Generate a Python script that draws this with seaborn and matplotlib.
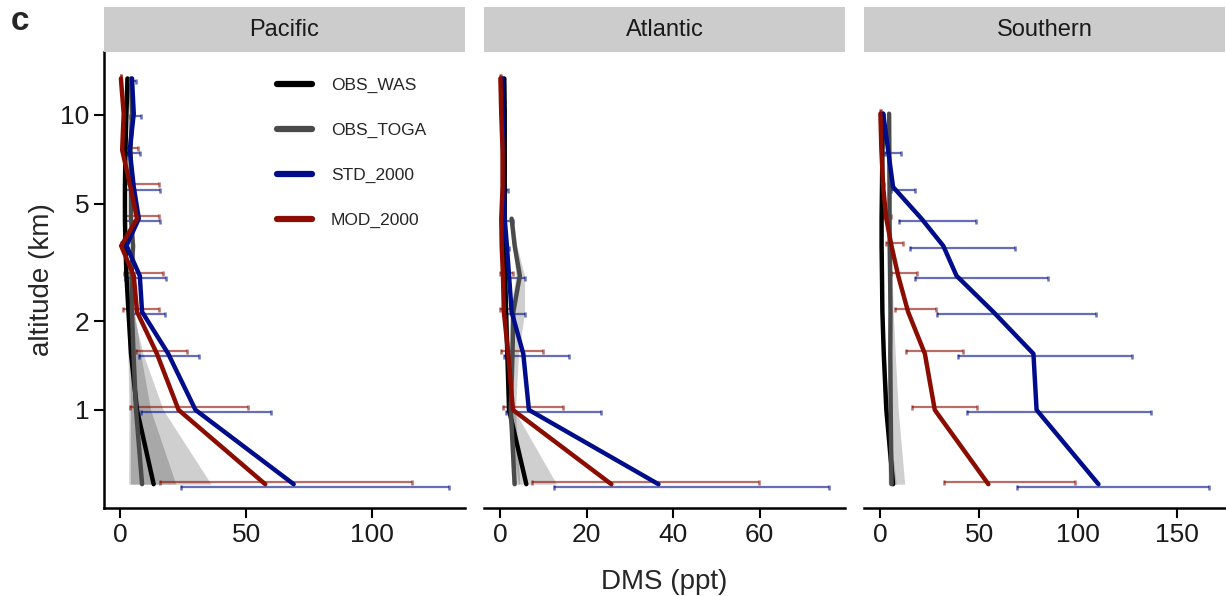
import numpy as np
import pandas as pd
import seaborn as sns
import matplotlib
matplotlib.use("Agg")
import matplotlib.pyplot as plt
from matplotlib.lines import Line2D

sns.set_theme(style="white")
plt.rcParams['font.family'] = ['Liberation Sans', 'DejaVu Sans']

nan = np.nan

# altitude levels (km) of the profiles
altitude = [0.56, 1.0, 1.55, 2.15, 2.85, 3.6, 4.45, 5.7, 7.6, 10.1, 13.3]
regions = ['Pacific', 'Atlantic', 'Southern']
series = ['OBS_WAS', 'OBS_TOGA', 'STD_2000', 'MOD_2000']

# Pacific
pac_was = [13.2, 6.6, 4.2, 3.2, 2.4, 2.0, 1.8, 1.8, 2.0, 2.4, 2.8]
pac_was_lo = [3.3, 3.4, 3.0, 2.5, 1.9, 1.6, 1.4, 1.4, 1.6, 2.0, 2.3]
pac_was_hi = [36.0, 17.0, 9.0, 5.0, 3.2, 2.5, 2.2, 2.2, 2.4, 2.8, 3.3]
pac_toga = [8.6, 6.2, 5.2, 4.6, 4.4, 5.0, 4.2, 4.2, 4.0, 4.6, 4.2]
pac_toga_lo = [4.0, 4.0, 3.8, 3.8, 3.8, 4.2, 3.6, 3.6, 3.5, 4.0, 3.6]
pac_toga_hi = [22.0, 12.0, 8.0, 5.6, 5.0, 5.8, 4.8, 4.8, 4.6, 5.2, 4.8]
pac_std = [68.8, 29.8, 19.0, 8.6, 7.7, 2.4, 7.3, 5.3, 3.7, 5.3, 4.6]
pac_std_lo = [24.2, 8.2, 7.3, 3.3, 2.0, 1.8, 2.0, 2.0, 2.5, 4.0, 3.8]
pac_std_hi = [130.3, 59.8, 31.3, 17.9, 18.1, 3.2, 15.9, 15.9, 7.9, 8.2, 6.3]
pac_mod = [57.5, 23.1, 14.5, 6.6, 5.3, 0.3, 6.6, 4.0, 0.7, 1.3, 0.2]
pac_mod_lo = [15.9, 3.7, 6.0, 1.0, 1.5, 0.2, 1.5, 2.0, 0.5, 1.0, 0.1]
pac_mod_hi = [115.7, 50.5, 26.5, 15.2, 16.8, 0.5, 15.2, 15.2, 6.9, 1.6, 0.4]

# Atlantic
atl_was = [6.0, 2.0, 1.6, 1.3, 1.1, 1.0, 1.0, 1.0, 1.0, 1.0, 0.9]
atl_was_lo = [4.2, 1.5, 1.2, 1.0, 0.9, 0.8, 0.8, 0.8, 0.8, 0.8, 0.7]
atl_was_hi = [13.0, 3.2, 2.2, 1.8, 1.4, 1.2, 1.2, 1.2, 1.2, 1.2, 1.1]
atl_toga = [3.3, 2.4, 2.8, 3.0, 4.5, 3.3, 2.6, nan, nan, nan, nan]
atl_toga_lo = [2.6, 2.0, 2.0, 2.2, 3.6, 2.9, 2.3, nan, nan, nan, nan]
atl_toga_hi = [4.5, 3.5, 4.2, 5.6, 5.6, 3.8, 3.0, nan, nan, nan, nan]
atl_std = [36.6, 6.6, 5.3, 2.6, 2.0, 1.5, 1.0, 0.8, 0.6, 0.5, 0.5]
atl_std_lo = [12.4, 1.2, 0.8, 0.8, 0.8, 1.0, 0.6, 0.5, 0.4, 0.4, 0.4]
atl_std_hi = [76.0, 23.2, 15.9, 5.6, 5.6, 2.0, 2.9, 1.8, 0.8, 0.7, 0.6]
atl_mod = [25.7, 2.9, 1.8, 0.8, 0.6, 0.3, 0.2, 0.5, 0.5, 0.2, 0.0]
atl_mod_lo = [7.4, 0.5, 0.2, 0.0, 0.0, 0.1, 0.1, 0.3, 0.3, 0.1, 0.0]
atl_mod_hi = [59.8, 14.4, 9.9, 2.9, 2.9, 0.6, 0.5, 0.8, 0.7, 0.4, 0.2]

# Southern
sou_was = [6.4, 3.0, 1.7, 1.0, 0.8, 0.6, 0.6, 0.8, 1.0, 1.4, nan]
sou_was_lo = [4.5, 2.0, 1.1, 0.6, 0.5, 0.4, 0.4, 0.5, 0.7, 1.0, nan]
sou_was_hi = [8.0, 4.0, 2.4, 1.5, 1.1, 0.9, 0.9, 1.1, 1.3, 1.8, nan]
sou_toga = [5.6, 5.2, 5.0, 5.1, 4.9, 4.7, 4.6, 4.6, 4.5, 4.4, nan]
sou_toga_lo = [3.9, 3.9, 3.9, 4.1, 4.0, 4.0, 4.0, 4.0, 3.9, 3.8, nan]
sou_toga_hi = [12.3, 9.0, 7.5, 6.5, 6.0, 5.6, 5.4, 5.3, 5.2, 5.1, nan]
sou_std = [110.3, 79.0, 77.4, 57.1, 38.5, 31.8, 20.8, 6.4, 3.9, 1.4, nan]
sou_std_lo = [69.3, 43.6, 39.4, 28.7, 17.4, 15.2, 9.5, 5.5, 2.2, 1.0, nan]
sou_std_hi = [166.0, 137.0, 127.5, 109.0, 84.6, 68.1, 48.1, 17.7, 10.6, 2.0, nan]
sou_mod = [54.6, 27.5, 22.5, 14.0, 9.0, 5.6, 3.0, 1.4, 0.5, 0.0, nan]
sou_mod_lo = [32.0, 16.2, 12.8, 7.6, 5.6, 3.0, 2.0, 1.0, 0.3, 0.0, nan]
sou_mod_hi = [98.5, 49.0, 41.9, 28.0, 18.6, 11.5, 5.6, 2.0, 0.8, 0.3, nan]

x_ticks = {'Pacific': [0, 50, 100], 'Atlantic': [0, 20, 40, 60], 'Southern': [0, 50, 100, 150]}

# build one long table
profiles = {
    'Pacific': [(pac_was, pac_was_lo, pac_was_hi), (pac_toga, pac_toga_lo, pac_toga_hi),
                (pac_std, pac_std_lo, pac_std_hi), (pac_mod, pac_mod_lo, pac_mod_hi)],
    'Atlantic': [(atl_was, atl_was_lo, atl_was_hi), (atl_toga, atl_toga_lo, atl_toga_hi),
                 (atl_std, atl_std_lo, atl_std_hi), (atl_mod, atl_mod_lo, atl_mod_hi)],
    'Southern': [(sou_was, sou_was_lo, sou_was_hi), (sou_toga, sou_toga_lo, sou_toga_hi),
                 (sou_std, sou_std_lo, sou_std_hi), (sou_mod, sou_mod_lo, sou_mod_hi)],
}
frames = []
for reg in regions:
    for name, (val, lo, hi) in zip(series, profiles[reg]):
        frames.append(pd.DataFrame({'region': reg, 'series': name, 'altitude': altitude,
                                    'dms': val, 'lo': lo, 'hi': hi}))
df = pd.concat(frames, ignore_index=True).dropna()

palette = {'OBS_WAS': '#000000', 'OBS_TOGA': '#4a4a4a', 'STD_2000': '#000d8a', 'MOD_2000': '#8b0c00'}
dodge = {'STD_2000': 1 / 1.02, 'MOD_2000': 1.02}

fig = plt.figure(figsize=(12.26, 5.96), dpi=100)
W, H = 1226, 596
lefts = [104, 484, 864]
pw = 361
bottom, top = 508, 52

for i, reg in enumerate(regions):
    ax = fig.add_axes([lefts[i] / W, 1 - bottom / H, pw / W, (bottom - top) / H])
    ax.set_yscale('log')
    sub = df[df.region == reg]

    # observation ranges
    for name in ['OBS_WAS', 'OBS_TOGA']:
        s = sub[sub.series == name]
        ax.fill_betweenx(s.altitude, s.lo, s.hi, color='black', alpha=0.19, lw=0)

    # model spread
    for name in ['MOD_2000', 'STD_2000']:
        s = sub[sub.series == name]
        ax.errorbar(s.dms, s.altitude * dodge[name], xerr=[s.dms - s.lo, s.hi - s.dms],
                    fmt='none', ecolor=palette[name], alpha=0.6, elinewidth=1.6,
                    capsize=1.8, capthick=1.8)

    sns.lineplot(data=sub, x='dms', y='altitude', hue='series', hue_order=series,
                 palette=palette, orient='y', estimator=None, sort=True,
                 lw=3.2, legend=False, ax=ax)

    rng = sub.hi.max()
    ax.set_xlim(-0.05 * rng, 1.05 * rng)
    ax.set_ylim(0.465, 16.35)
    ax.set_xticks(x_ticks[reg])
    ax.set_xticklabels([str(t) for t in x_ticks[reg]])
    ax.set_yticks([1, 2, 5, 10])
    ax.set_yticklabels(['1', '2', '5', '10'])
    ax.yaxis.set_minor_locator(matplotlib.ticker.NullLocator())
    ax.set_xlabel('')
    ax.set_ylabel('')
    for side in ['top', 'right']:
        ax.spines[side].set_visible(False)
    ax.spines['bottom'].set_linewidth(1.8)
    ax.spines['bottom'].set_color('black')
    ax.tick_params(axis='both', direction='out', length=7, width=1.5, color='black',
                   labelsize=19, labelcolor='#1a1a1a', bottom=True, left=True)
    if i == 0:
        ax.spines['left'].set_linewidth(1.8)
        ax.spines['left'].set_color('black')
        ax.set_ylabel('altitude (km)', fontsize=20, labelpad=4)
    else:
        ax.spines['left'].set_visible(False)
        ax.tick_params(axis='y', left=False, labelleft=False)
    if i == 1:
        ax.set_xlabel('DMS (ppt)', fontsize=20, labelpad=16)
    if i == 0:
        handles = [Line2D([0], [0], color=palette[n], lw=4.5) for n in series]
        ax.legend(handles, series, loc='upper left', bbox_to_anchor=(0.48, 0.944),
                  frameon=False, fontsize=12.5, handlelength=2.0, handletextpad=1.1,
                  labelspacing=1.72, borderpad=0, borderaxespad=0)

    # facet strip
    sax = fig.add_axes([lefts[i] / W, 1 - top / H, pw / W, 45 / H])
    sax.set_facecolor('#cccccc')
    sax.set_xticks([])
    sax.set_yticks([])
    for sp in sax.spines.values():
        sp.set_visible(False)
    sax.text(0.5, 0.48, reg, ha='center', va='center', fontsize=17, color='#1a1a1a',
             transform=sax.transAxes)

fig.text(20 / W, 1 - 22 / H, 'c', fontsize=24, fontweight='bold', ha='center', va='center')

fig.savefig('out.png', dpi=100)
